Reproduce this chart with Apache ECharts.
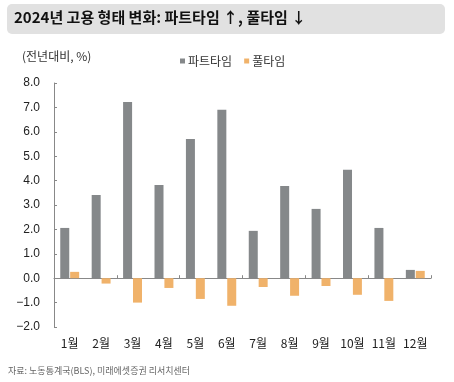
<!DOCTYPE html>
<html><head><meta charset="utf-8">
<script src="https://cdn.jsdelivr.net/npm/echarts@6/dist/echarts.min.js"></script>
<style>html,body{margin:0;padding:0;background:#fff}#c{width:454px;height:382px}</style>
</head><body><div id="c"></div>
<script>
const categories = ['1월','2월','3월','4월','5월','6월','7월','8월','9월','10월','11월','12월'];
const partTime = [2.06, 3.41, 7.22, 3.82, 5.71, 6.90, 1.94, 3.78, 2.84, 4.44, 2.06, 0.34];
const fullTime = [0.26, -0.22, -1.00, -0.40, -0.85, -1.13, -0.36, -0.72, -0.32, -0.68, -0.93, 0.30];
const yTicks = [-2, -1, 0, 1, 2, 3, 4, 5, 6, 7, 8];
const titleText = '2024년 고용 형태 변화: 파트타임 ↑, 풀타임 ↓';
const unitText = '(전년대비, %)';
const sourceText = '자료: 노동통계국(BLS), 미래에셋증권 리서치센터';
const seriesNames = ['파트타임', '풀타임'];

const FONT = '"Noto Sans CJK KR", "Liberation Sans", sans-serif';
const chart = echarts.init(document.getElementById('c'), null, {renderer: 'canvas'});
chart.setOption({
  animation: false,
  textStyle: {fontFamily: FONT},
  graphic: [
    {type: 'rect', left: 7, top: 4, shape: {width: 438, height: 30, r: 5}, style: {fill: '#e1e1e1'}},
    {type: 'text', left: 14, top: 10, style: {text: titleText, font: 'bold 15px ' + FONT, fill: '#111'}},
    {type: 'text', left: 22, top: 50, style: {text: unitText, font: '12px ' + FONT, fill: '#333'}},
    {type: 'text', left: 8, top: 366, style: {text: sourceText, font: '9px ' + FONT, fill: '#666'}}
  ],
  legend: {
    left: 175, top: 50, itemWidth: 5, itemHeight: 5, itemGap: 12,
    icon: 'rect',
    textStyle: {fontSize: 12, color: '#333', fontFamily: FONT, padding: [0, 0, 0, -2]},
    data: seriesNames
  },
  grid: {left: 54, right: 23, top: 83, bottom: 55},
  xAxis: [
    {type: 'category', data: categories, position: 'bottom',
     axisLine: {show: true, onZero: true, lineStyle: {color: '#888', width: 1}},
     axisTick: {show: true, inside: true, length: 3, lineStyle: {color: '#888'}},
     axisLabel: {show: false}},
    {type: 'category', data: categories, position: 'bottom',
     axisLine: {show: false, onZero: false}, axisTick: {show: false},
     axisLabel: {show: true, interval: 0, fontSize: 12, color: '#222', margin: 10, fontFamily: FONT}}
  ],
  yAxis: {
    type: 'value', min: -2, max: 8, interval: 1,
    axisLine: {show: true, lineStyle: {color: '#888'}},
    axisTick: {show: true, inside: true, length: 3, lineStyle: {color: '#888'}},
    splitLine: {show: false},
    axisLabel: {fontSize: 12, color: '#222', margin: 14, fontFamily: '"Liberation Sans", sans-serif',
      formatter: v => (v < 0 ? '−' + Math.abs(v).toFixed(1) : v.toFixed(1))}
  },
  series: [
    {name: seriesNames[0], type: 'bar', xAxisIndex: 0, data: partTime, barWidth: 9, barGap: '10%', itemStyle: {color: '#85888a'}},
    {name: seriesNames[1], type: 'bar', xAxisIndex: 0, data: fullTime, barWidth: 9, itemStyle: {color: '#f0b26a'}}
  ]
});
</script></body></html>
